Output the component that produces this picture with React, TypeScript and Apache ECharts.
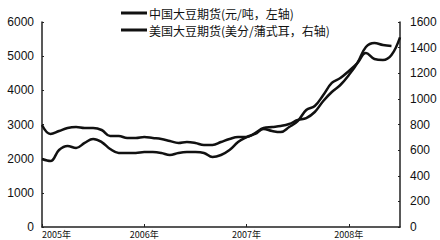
import React, { useEffect, useRef } from "react";
import * as echarts from "echarts";

const months: string[] = [];
for (let y = 2005; y <= 2008; y++) {
  for (let m = 1; m <= 12; m++) {
    if (y === 2008 && m > 7) break;
    months.push(`${y}-${String(m).padStart(2, "0")}`);
  }
}

const seriesNames = ["中国大豆期货(元/吨，左轴)", "美国大豆期货(美分/蒲式耳，右轴)"];

// China soybean futures, yuan/ton (left axis)
const chinaValues: (number | null)[] = [
  2985, 2722, 2810, 2898, 2927, 2898, 2898, 2839, 2663, 2663,
  2605, 2605, 2634, 2605, 2576, 2517, 2459, 2488, 2459, 2400,
  2400, 2488, 2576, 2634, 2634, 2751, 2898, 2927, 2956, 3015,
  3132, 3190, 3366, 3688, 3951, 4156, 4449, 4800, 5269, 5386,
  5327, 5300, null,
];

// US soybean futures, cents/bushel (right axis)
const usValues: number[] = [
  531, 515, 601, 632, 617, 656, 687, 663, 609, 578,
  578, 578, 585, 585, 578, 562, 578, 585, 585, 578,
  546, 562, 601, 663, 702, 726, 765, 749, 741, 780,
  827, 913, 944, 1030, 1124, 1163, 1218, 1280, 1358, 1311,
  1303, 1342, 1480,
];

const leftTicks = { min: 0, max: 6000, interval: 1000 };
const rightTicks = { min: 0, max: 1600, interval: 200 };

export default function App() {
  const ref = useRef<HTMLDivElement>(null);
  useEffect(() => {
    if (!ref.current) return;
    const chart = echarts.init(ref.current, undefined, { renderer: "svg" });
    const axisLine = { show: true, lineStyle: { color: "#222", width: 1.5 } };
    const labelStyle = {
      color: "#111",
      fontSize: 12,
      fontFamily: "Liberation Sans, Arial, sans-serif",
      formatter: (v: number) => String(v),
    };
    chart.setOption({
      animation: false,
      backgroundColor: "#fff",
      legend: {
        orient: "vertical",
        left: 116,
        top: 2,
        itemWidth: 26,
        itemHeight: 3,
        itemGap: 5,
        icon: "rect",
        textStyle: {
          color: "#111",
          fontSize: 12,
          fontFamily: "Noto Sans CJK SC, sans-serif",
          padding: [0, 0, 0, -3],
        },
        data: seriesNames,
      },
      grid: { left: 42, right: 40, top: 22, bottom: 13, containLabel: false },
      xAxis: {
        type: "category",
        data: months,
        boundaryGap: false,
        axisLine,
        axisTick: {
          show: true,
          inside: true,
          length: 3,
          interval: (i: number) => i % 12 === 0,
          lineStyle: { color: "#222" },
        },
        axisLabel: {
          interval: (i: number) => i % 12 === 0,
          formatter: (v: string) => `${v.slice(0, 4)}年`,
          color: "#111",
          fontSize: 9,
          lineHeight: 10,
          margin: 2,
          alignMinLabel: "left",
          fontFamily: "Noto Sans CJK SC, sans-serif",
        },
        splitLine: { show: false },
      },
      yAxis: [
        {
          type: "value",
          ...leftTicks,
          position: "left",
          axisLine,
          axisTick: { show: true, inside: true, length: 2, lineStyle: { color: "#222" } },
          axisLabel: { ...labelStyle, margin: 8 },
          splitLine: { show: false },
        },
        {
          type: "value",
          ...rightTicks,
          position: "right",
          axisLine,
          axisTick: { show: true, inside: true, length: 2, lineStyle: { color: "#222" } },
          axisLabel: { ...labelStyle, margin: 10 },
          splitLine: { show: false },
        },
      ],
      series: [
        {
          name: seriesNames[0],
          type: "line",
          yAxisIndex: 0,
          data: chinaValues,
          smooth: 0.4,
          showSymbol: false,
          itemStyle: { color: "#111" },
          lineStyle: { color: "#111", width: 2.5 },
        },
        {
          name: seriesNames[1],
          type: "line",
          yAxisIndex: 1,
          data: usValues,
          smooth: 0.4,
          showSymbol: false,
          itemStyle: { color: "#111" },
          lineStyle: { color: "#111", width: 2.5 },
        },
      ],
    });
    return () => chart.dispose();
  }, []);
  return <div ref={ref} style={{ width: 440, height: 240, position: "absolute", left: 0, top: 0 }} />;
}
